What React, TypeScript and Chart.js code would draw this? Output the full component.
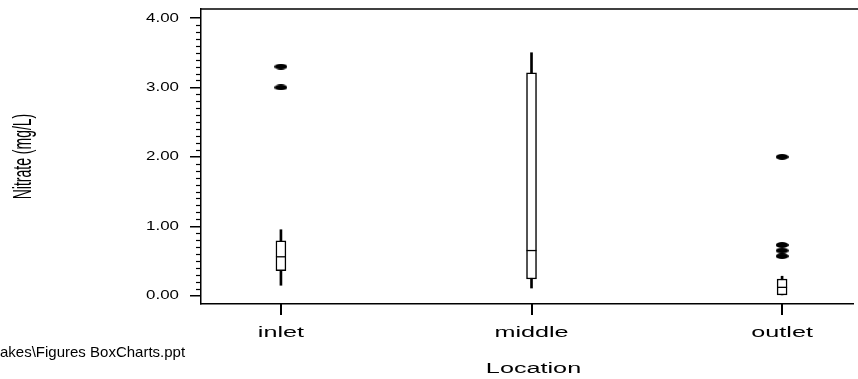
import React, { useEffect, useRef, useState } from 'react';
import { Chart, registerables } from 'chart.js';

Chart.register(...registerables);

// ---- data ----
const categories = ['inlet', 'middle', 'outlet'];
const whiskerLow = [0.15, 0.11, 0.0];
const q1 = [0.36, 0.24, 0.0];
const median = [0.56, 0.65, 0.12];
const q3 = [0.79, 3.21, 0.24];
const whiskerHigh = [0.95, 3.5, 0.28];
const outlierCategory = [0, 0, 2, 2, 2, 2];
const outlierValue = [3.3, 3.0, 2.0, 0.73, 0.65, 0.57];
const yTickValues = [0, 1, 2, 3, 4];
const yMinorStep = 0.1;
const yAxisTitle = 'Nitrate (mg/L)';
const xAxisTitle = 'Location';
const footerText = 'akes\\Figures BoxCharts.ppt';

const FONT = '"Liberation Sans", Arial, sans-serif';

function makeEllipse(w: number, h: number): HTMLCanvasElement {
  const c = document.createElement('canvas');
  c.width = w;
  c.height = h;
  const g = c.getContext('2d')!;
  g.fillStyle = '#000';
  g.beginPath();
  g.ellipse(w / 2, h / 2, w / 2, h / 2, 0, 0, Math.PI * 2);
  g.fill();
  return c;
}

function stretchedText(ctx: CanvasRenderingContext2D, text: string, x: number, y: number, sx: number, size: number, align: CanvasTextAlign, rotate = false) {
  ctx.save();
  ctx.translate(x, y);
  ctx.scale(sx, 1);
  if (rotate) ctx.rotate(-Math.PI / 2);
  ctx.font = `${size}px ${FONT}`;
  ctx.fillStyle = '#000';
  ctx.textAlign = align;
  ctx.textBaseline = 'middle';
  ctx.fillText(text, 0, 0);
  ctx.restore();
}

const boxPlugin = {
  id: 'boxExtras',
  afterDatasetsDraw(chart: any) {
    const ctx: CanvasRenderingContext2D = chart.ctx;
    const meta = chart.getDatasetMeta(1);
    const y = chart.scales.y;
    ctx.save();
    ctx.strokeStyle = '#000';
    ctx.lineWidth = 1.3;
    meta.data.forEach((el: any, i: number) => {
      const py = y.getPixelForValue(median[i]);
      ctx.beginPath();
      ctx.moveTo(el.x - el.width / 2, py);
      ctx.lineTo(el.x + el.width / 2, py);
      ctx.stroke();
    });
    ctx.restore();
  },
  afterDraw(chart: any) {
    const ctx: CanvasRenderingContext2D = chart.ctx;
    const area = chart.chartArea;
    const left = area.left;
    const top = area.top;
    const bottom = area.bottom;
    const x = chart.scales.x;
    const y = chart.scales.y;
    ctx.save();
    ctx.strokeStyle = '#000';
    ctx.lineWidth = 1.5;
    ctx.beginPath();
    ctx.moveTo(left, top);
    ctx.lineTo(chart.width, top);
    ctx.stroke();
    ctx.lineWidth = 2;
    for (let i = 0; i < categories.length; i++) {
      const px = Math.round(x.getPixelForValue(i));
      ctx.beginPath();
      ctx.moveTo(px, bottom);
      ctx.lineTo(px, bottom + 11);
      ctx.stroke();
    }
    ctx.lineWidth = 1.2;
    const lo = yTickValues[0];
    const hi = yTickValues[yTickValues.length - 1];
    const n = Math.round((hi - lo) / yMinorStep);
    for (let k = 0; k <= n; k++) {
      const v = lo + k * yMinorStep;
      if (Math.abs(v - Math.round(v)) < 1e-6) continue;
      const py = Math.round(y.getPixelForValue(v)) + 0.5;
      ctx.beginPath();
      ctx.moveTo(left - 5, py);
      ctx.lineTo(left, py);
      ctx.stroke();
    }
    ctx.restore();
    yTickValues.forEach((v) => {
      stretchedText(ctx, v.toFixed(2), left - 22, y.getPixelForValue(v), 1.3, 13, 'right');
    });
    categories.forEach((c, i) => {
      stretchedText(ctx, c, x.getPixelForValue(i), 333, 1.8, 14, 'center');
    });
    stretchedText(ctx, xAxisTitle, x.getPixelForValue(1) + 2, 369, 1.8, 14, 'center');
    stretchedText(ctx, yAxisTitle, 24, (top + bottom) / 2, 1.8, 14, 'center', true);
  },
};

export default function App() {
  const ref = useRef<HTMLCanvasElement>(null);
  const [tickMarks, setTickMarks] = useState<{ x: number; y: number }[]>([]);
  useEffect(() => {
    const ellipse = makeEllipse(13, 6);
    const chart = new Chart(ref.current!, {
      type: 'bar',
      data: {
        datasets: [
          {
            type: 'scatter',
            data: outlierValue.map((v, i) => ({ x: outlierCategory[i], y: v })),
            pointStyle: ellipse as any,
            order: 1,
          } as any,
          {
            type: 'bar',
            data: categories.map((_, i) => ({ x: i, y: [q1[i], q3[i]] })),
            backgroundColor: '#fff',
            borderColor: '#000',
            borderWidth: 1.5,
            borderSkipped: false,
            barThickness: 10,
            grouped: false,
            order: 2,
          } as any,
          {
            type: 'bar',
            data: categories.map((_, i) => ({ x: i, y: [whiskerLow[i], whiskerHigh[i]] })),
            backgroundColor: '#000',
            borderWidth: 0,
            barThickness: 2,
            grouped: false,
            order: 3,
          } as any,
        ],
      },
      options: {
        animation: false,
        responsive: false,
        maintainAspectRatio: false,
        layout: { padding: { top: 9, left: 0, right: 0, bottom: 0 } },
        plugins: { legend: { display: false }, tooltip: { enabled: false } },
        scales: {
          x: {
            type: 'linear',
            offset: false,
            min: -0.319,
            max: 2.283,
            afterBuildTicks: (s: any) => {
              s.ticks = categories.map((_, i) => ({ value: i }));
            },
            afterFit: (s: any) => {
              s.height = 75;
            },
            ticks: { display: false },
            grid: { display: false, offset: false, drawOnChartArea: false },
            border: { display: true, color: '#000', width: 1.5 },
          },
          y: {
            type: 'linear',
            min: -0.12,
            max: 4.13,
            afterBuildTicks: (s: any) => {
              s.ticks = yTickValues.map((v) => ({ value: v }));
            },
            afterFit: (s: any) => {
              s.width = 201;
            },
            ticks: { display: false },
            grid: { drawOnChartArea: false, drawTicks: true, tickLength: 11, color: '#000', lineWidth: 1.5 },
            border: { display: true, color: '#000', width: 1.5 },
          },
        },
      } as any,
      plugins: [boxPlugin],
    });
    const xs = chart.scales.x;
    setTickMarks(categories.map((_, i) => ({ x: xs.getPixelForValue(i), y: chart.chartArea.bottom })));
    return () => chart.destroy();
  }, []);

  return (
    <div style={{ position: 'relative', width: 858, height: 379, overflow: 'hidden', background: '#fff' }}>
      <style>{'body{margin:0;background:#fff}'}</style>
      <canvas ref={ref} width={858} height={379} style={{ display: 'block' }} />
      {tickMarks.map((t, i) => (
        <div
          key={i}
          style={{
            position: 'absolute',
            left: Math.round(t.x) - 1,
            top: Math.round(t.y),
            width: 2,
            height: 11,
            background: '#000',
          }}
        />
      ))}
      <div
        style={{
          position: 'absolute',
          left: 0,
          top: 343,
          font: `15px ${FONT}`,
          lineHeight: '17px',
          color: '#000',
          whiteSpace: 'nowrap',
        }}
      >
        {footerText}
      </div>
    </div>
  );
}
